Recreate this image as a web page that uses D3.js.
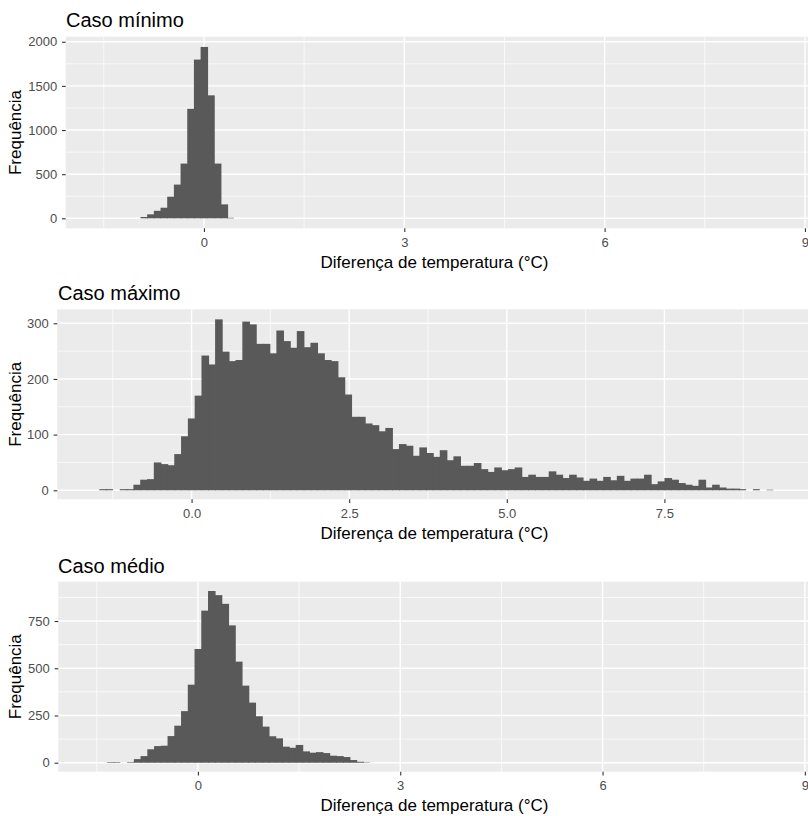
<!DOCTYPE html>
<meta charset="utf-8">
<style>
  body { margin: 0; background: #fff; }
  svg { display: block; font-family: "Liberation Sans", Arial, sans-serif; }
  .panel-bg { fill: #ebebeb; }
  .grid-major { stroke: #fff; stroke-width: 1.4px; }
  .grid-minor { stroke: #fff; stroke-width: 0.7px; }
  .bar { fill: #595959; }
  .tick line { stroke: #333; stroke-width: 1.1px; }
  .tick text { fill: #4d4d4d; font-size: 13px; }
  .axis-title { font-size: 17px; fill: #000; }
  .plot-title { font-size: 20px; fill: #000; }
</style>
<svg width="808" height="816"></svg>
<script src="https://d3js.org/d3.v7.min.js"></script>
<script>
// histogram counts, one value per bin
var minimoStart = -0.95, minimoBin = 0.1;
var minimoCounts = [15, 45, 85, 120, 245, 382, 620, 1240, 1798, 1941, 1393, 620, 158, 6];

var maximoStart = -1.463, maximoBin = 0.108;
var maximoCounts = [
  2, 2, 0, 2, 2, 10, 19, 20, 50, 47,
  45, 65, 97, 129, 170, 242, 226, 307, 249, 232,
  234, 303, 298, 263, 263, 246, 287, 268, 256, 286,
  257, 265, 246, 234, 232, 203, 172, 132, 132, 120,
  117, 106, 112, 74, 83, 80, 62, 77, 67, 60,
  72, 54, 61, 44, 44, 49, 38, 33, 41, 36,
  38, 41, 24, 28, 24, 24, 34, 28, 22, 28,
  23, 17, 21, 17, 24, 18, 26, 17, 21, 21,
  28, 11, 16, 22, 19, 13, 10, 8, 19, 5,
  10, 5, 3, 3, 2, 0, 2, 0, 1];

var medioStart = -1.35, medioBin = 0.1;
var medioCounts = [3, 3, 0, 3, 19, 35, 71, 88, 90, 141,
  196, 273, 413, 602, 805, 909, 887, 841, 727, 535,
  408, 318, 246, 191, 140, 129, 85, 79, 94, 60,
  53, 56, 51, 37, 35, 30, 14, 5, 2];

// tick values
var xTicksA = [0, 3, 6, 9], xMinorA = [-1.5, 1.5, 4.5, 7.5];
var xTicksB = [0, 2.5, 5, 7.5], xMinorB = [-1.25, 1.25, 3.75, 6.25, 8.75];
var yTicksMin = [0, 500, 1000, 1500, 2000], yMinorMin = [250, 750, 1250, 1750];
var yTicksMax = [0, 100, 200, 300], yMinorMax = [50, 150, 250];
var yTicksMed = [0, 250, 500, 750], yMinorMed = [125, 375, 625, 875];

var svg = d3.select("svg");
svg.append("rect").attr("width", 808).attr("height", 816).attr("fill", "#fff");

var panels = [
  { title: "Caso mínimo", counts: minimoCounts, start: minimoStart, bin: minimoBin,
    x0: 65.7, x1: 810.3, y0: 36.7, y1: 228.3, xDomain: [-2.07, 9.08], yDomain: [-113, 2057],
    xTicks: xTicksA, xMinor: xMinorA, yTicks: yTicksMin, yMinor: yMinorMin, fmt: d3.format("d"),
    titleX: 66, titleY: 27 },
  { title: "Caso máximo", counts: maximoCounts, start: maximoStart, bin: maximoBin,
    x0: 57.3, x1: 809.4, y0: 309.3, y1: 499.3, xDomain: [-2.13, 9.8], yDomain: [-16.2, 325.1],
    xTicks: xTicksB, xMinor: xMinorB, yTicks: yTicksMax, yMinor: yMinorMax, fmt: d3.format(".1f"),
    titleX: 58, titleY: 300 },
  { title: "Caso médio", counts: medioCounts, start: medioStart, bin: medioBin,
    x0: 58.3, x1: 809.6, y0: 581.7, y1: 771.7, xDomain: [-2.07, 9.07], yDomain: [-47.6, 958.2],
    xTicks: xTicksA, xMinor: xMinorA, yTicks: yTicksMed, yMinor: yMinorMed, fmt: d3.format("d"),
    titleX: 58, titleY: 572.5 }
];

panels.forEach(function(p) {
  var g = svg.append("g");
  var x = d3.scaleLinear().domain(p.xDomain).range([p.x0, p.x1]);
  var y = d3.scaleLinear().domain(p.yDomain).range([p.y1, p.y0]);

  g.append("rect").attr("class", "panel-bg")
    .attr("x", p.x0).attr("y", p.y0)
    .attr("width", p.x1 - p.x0).attr("height", p.y1 - p.y0);

  // grid
  g.selectAll(".gx-minor").data(p.xMinor).enter().append("line")
    .attr("class", "grid-minor")
    .attr("x1", function(d) { return x(d); }).attr("x2", function(d) { return x(d); })
    .attr("y1", p.y0).attr("y2", p.y1);
  g.selectAll(".gy-minor").data(p.yMinor).enter().append("line")
    .attr("class", "grid-minor")
    .attr("x1", p.x0).attr("x2", p.x1)
    .attr("y1", function(d) { return y(d); }).attr("y2", function(d) { return y(d); });
  g.selectAll(".gx-major").data(p.xTicks).enter().append("line")
    .attr("class", "grid-major")
    .attr("x1", function(d) { return x(d); }).attr("x2", function(d) { return x(d); })
    .attr("y1", p.y0).attr("y2", p.y1);
  g.selectAll(".gy-major").data(p.yTicks).enter().append("line")
    .attr("class", "grid-major")
    .attr("x1", p.x0).attr("x2", p.x1)
    .attr("y1", function(d) { return y(d); }).attr("y2", function(d) { return y(d); });

  // bars (a little overlap so neighbouring bars show no seam)
  var bins = p.counts.map(function(c, i) {
    return { lo: p.start + i * p.bin, hi: p.start + (i + 1) * p.bin, n: c,
             next: i + 1 < p.counts.length ? p.counts[i + 1] : 0 };
  }).filter(function(d) { return d.n > 0; });

  g.selectAll(".bar").data(bins).enter().append("rect")
    .attr("class", "bar")
    .attr("x", function(d) { return x(d.lo); })
    .attr("width", function(d) { return x(d.hi) - x(d.lo) + (d.next > 0 ? 0.8 : 0); })
    .attr("y", function(d) { return y(d.n); })
    .attr("height", function(d) { return y(0) - y(d.n); });

  // axes
  var ax = g.append("g").attr("transform", "translate(0," + p.y1 + ")")
    .call(d3.axisBottom(x).tickValues(p.xTicks).tickFormat(p.fmt).tickSizeOuter(0).tickSize(3.7).tickPadding(5.8));
  ax.select(".domain").remove();
  var ay = g.append("g").attr("transform", "translate(" + p.x0 + ",0)")
    .call(d3.axisLeft(y).tickValues(p.yTicks).tickFormat(d3.format("d")).tickSizeOuter(0).tickSize(3.7).tickPadding(4.8));
  ay.select(".domain").remove();
  g.selectAll(".tick text").attr("font-family", null).attr("font-size", null);

  // titles
  g.append("text").attr("class", "plot-title")
    .attr("x", p.titleX).attr("y", p.titleY).text(p.title);
  g.append("text").attr("class", "axis-title")
    .attr("text-anchor", "middle")
    .attr("x", 434.5).attr("y", p.y1 + 39.7)
    .text("Diferença de temperatura (°C)");
  g.append("text").attr("class", "axis-title")
    .attr("text-anchor", "middle")
    .attr("transform", "translate(21," + ((p.y0 + p.y1) / 2) + ") rotate(-90)")
    .text("Frequência");
});
</script>
